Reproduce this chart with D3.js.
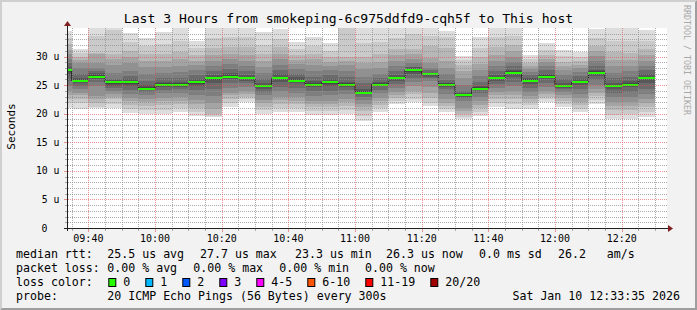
<!DOCTYPE html>
<html>
<head>
<meta charset="utf-8">
<script src="https://cdn.jsdelivr.net/npm/d3@7"></script>
<style>
  html, body { margin: 0; padding: 0; background: #f2f2f2; }
  svg { display: block; font-family: "DejaVu Sans Mono", monospace; }
</style>
</head>
<body>
<div id="chart"></div>
<script>
(function() {

  // ---- data ----
  // end time of every 300s step shown
  const stepEnds = ["09:35","09:40","09:45","09:50","09:55","10:00","10:05","10:10","10:15","10:20",
                    "10:25","10:30","10:35","10:40","10:45","10:50","10:55","11:00","11:05","11:10",
                    "11:15","11:20","11:25","11:30","11:35","11:40","11:45","11:50","11:55","12:00",
                    "12:05","12:10","12:15","12:20","12:25","12:30"];

  // median rtt per step (micro seconds)
  const medians = [27.6,25.8,26.5,25.5,25.5,24.4,25.1,25.1,25.5,26.2,
                   26.5,26.2,24.8,26.2,25.8,25.1,25.5,25.1,23.7,25.1,
                   26.2,27.7,26.9,25.1,23.3,24.4,26.2,27.2,25.8,26.5,
                   24.8,25.5,27.2,24.8,25.1,26.3];

  // lost pings per step (all green)
  const losses = [0,0,0,0,0,0,0,0,0,0,0,0,0,0,0,0,0,0,0,0,0,0,0,0,0,0,0,0,0,0,0,0,0,0,0,0];

  // the 20 sorted ping times of every step (micro seconds), these make the smoke
  const pings = [
    [21.0,21.8,22.6,23.3,23.9,24.8,25.7,26.7,27.3,27.5,27.7,27.8,28.2,28.8,29.6,30.4,31.2,32.2,33.3,34.5],
    [20.8,21.9,22.6,23.2,23.7,24.3,24.9,25.4,25.6,25.7,25.9,26.0,26.3,27.0,28.0,28.8,29.4,30.0,30.6,31.4],
    [21.0,21.1,21.9,22.5,23.1,24.8,25.6,26.0,26.3,26.4,26.6,26.8,27.1,27.4,28.0,28.9,30.5,30.6,33.6,35.5],
    [21.05,21.7,22.5,22.9,23.4,24.0,24.55,24.9,25.2,25.4,25.6,25.7,25.9,26.1,27.2,28.6,29.5,30.4,34.7,35.5],
    [20.2,20.9,21.6,22.2,22.8,23.4,24.2,24.85,25.2,25.4,25.6,25.7,26.0,26.6,27.5,28.9,29.9,31.0,32.6,34.15],
    [20.0,20.7,21.4,22.0,22.6,23.2,23.8,24.1,24.2,24.3,24.5,24.6,25.0,25.8,26.9,28.2,29.3,30.5,31.8,33.3],
    [20.0,20.7,21.5,22.2,22.8,23.6,24.2,24.7,24.9,25.0,25.2,25.3,25.6,26.3,27.2,28.2,29.2,30.5,32.2,34.3],
    [20.3,21.0,21.7,22.3,22.9,23.7,24.3,24.7,24.9,25.0,25.2,25.3,25.6,26.3,27.3,28.4,29.5,30.8,32.8,35.5],
    [19.6,20.3,21.0,21.7,22.4,23.3,24.1,24.9,25.2,25.4,25.6,25.7,26.1,26.8,27.6,28.5,29.3,30.3,31.5,32.8],
    [19.5,19.6,19.9,20.8,21.8,23.1,24.4,25.4,25.9,26.1,26.3,26.4,26.8,27.5,28.3,29.3,30.3,31.5,33.3,35.5],
    [21.2,21.9,22.6,23.2,23.7,24.5,25.3,26.0,26.3,26.4,26.6,26.7,27.1,27.8,28.7,29.6,30.5,31.6,33.5,35.5],
    [22.0,22.5,23.0,23.5,24.0,24.7,25.3,25.8,26.0,26.1,26.3,26.4,26.7,27.4,28.3,29.3,30.3,31.6,33.4,35.5],
    [20.0,20.6,21.2,21.8,22.4,23.2,23.8,24.4,24.6,24.7,24.9,25.0,25.3,26.1,27.1,28.2,29.2,30.4,32.1,34.3],
    [20.3,21.0,21.7,22.4,23.0,23.9,24.7,25.5,26.0,26.1,26.3,26.4,26.9,27.6,28.5,29.6,30.5,31.6,33.1,34.9],
    [20.3,21.0,21.7,22.3,22.9,23.7,24.5,25.3,25.6,25.7,25.9,26.0,26.4,27.0,27.8,28.7,29.4,30.2,31.3,32.5],
    [19.7,20.4,21.1,21.7,22.3,23.1,23.9,24.6,24.9,25.0,25.2,25.3,25.7,26.5,27.5,28.6,29.5,30.5,31.9,33.4],
    [19.7,20.4,21.1,21.7,22.3,23.2,24.0,24.8,25.2,25.4,25.6,25.7,26.1,26.8,27.6,28.4,29.1,29.9,31.0,32.3],
    [20.0,20.7,21.4,22.0,22.6,23.4,24.1,24.7,24.9,25.0,25.2,25.3,25.6,26.4,27.4,28.5,29.3,30.0,35.3,35.5],
    [18.8,19.6,20.4,21.1,21.7,22.4,23.0,23.4,23.5,23.6,23.8,23.9,24.4,25.4,26.5,27.8,28.8,30.0,32.4,35.5],
    [20.3,21.0,21.6,22.2,22.8,23.6,24.2,24.8,24.9,25.0,25.2,25.3,25.6,26.2,27.0,28.0,29.0,30.4,32.6,35.5],
    [21.7,22.3,22.8,23.3,23.8,24.5,25.2,25.8,26.0,26.1,26.3,26.4,26.7,27.4,28.3,29.3,30.2,31.4,33.2,35.5],
    [22.0,22.6,23.4,23.9,24.9,25.5,26.2,26.9,27.3,27.6,27.8,27.9,28.1,28.2,28.8,29.5,30.4,31.3,33.9,35.5],
    [21.35,21.9,22.8,23.7,24.7,25.7,26.2,26.5,26.7,26.8,27.0,27.1,27.2,27.6,28.05,28.9,29.8,31.85,33.6,35.5],
    [20.3,20.9,21.35,21.9,22.5,23.4,24.25,24.7,24.9,25.0,25.2,25.3,25.4,25.9,26.9,28.0,29.2,31.55,33.5,34.45],
    [19.1,19.5,19.9,20.4,21.05,22.2,22.8,23.0,23.2,23.25,23.35,23.5,23.7,24.0,25.1,26.3,27.4,28.6,29.4,30.1],
    [19.6,20.3,21.0,21.6,22.2,23.0,23.6,24.1,24.2,24.3,24.5,24.6,24.9,25.6,26.6,27.7,28.7,29.9,31.5,33.4],
    [21.2,21.9,22.6,23.2,23.8,24.5,25.2,25.8,26.0,26.1,26.3,26.4,26.7,27.4,28.3,29.3,30.3,31.6,33.4,35.5],
    [20.9,21.7,22.5,23.2,23.9,24.8,25.6,26.5,26.9,27.1,27.3,27.4,27.7,28.3,29.1,30.0,30.9,32.0,33.6,35.5],
    [20.9,21.5,22.1,22.6,23.1,23.8,24.5,25.2,25.6,25.7,25.9,26.0,26.3,26.8,27.3,27.9,28.4,28.9,29.5,30.2],
    [22.0,22.5,23.0,23.5,24.0,24.7,25.4,26.0,26.3,26.4,26.6,26.7,27.0,27.6,28.3,29.0,29.6,30.3,31.2,32.3],
    [21.2,21.7,22.2,22.7,23.2,23.8,24.3,24.5,24.6,24.7,24.9,25.0,25.3,26.0,26.8,27.6,28.3,29.1,30.1,31.2],
    [20.3,20.9,21.5,22.1,22.7,23.5,24.3,25.0,25.3,25.4,25.6,25.7,26.0,26.6,27.3,28.0,28.6,29.2,30.0,30.8],
    [21.7,22.4,23.1,23.7,24.3,25.1,25.9,26.6,27.0,27.1,27.3,27.4,27.7,28.4,29.2,30.1,30.9,31.8,33.2,34.9],
    [19.1,19.8,20.6,21.3,22.0,22.9,23.7,24.4,24.6,24.7,24.9,25.0,25.4,26.2,27.1,28.3,29.4,30.8,32.8,35.5],
    [19.1,19.9,20.7,21.4,22.1,23.0,23.8,24.6,24.9,25.0,25.2,25.3,25.7,26.5,27.4,28.4,29.4,30.7,32.7,35.5],
    [19.5,20.3,21.1,21.8,22.5,23.5,24.4,25.4,26.0,26.2,26.4,26.5,26.9,27.6,28.4,29.3,30.2,31.3,32.8,34.6]
  ];

  // axis ticks
  const yMajorTicks  = [0, 5, 10, 15, 20, 25, 30];
  const yTickLabels  = ["0", "5 u", "10 u", "15 u", "20 u", "25 u", "30 u"];
  const timeLabels   = ["09:40","10:00","10:20","10:40","11:00","11:20","11:40","12:00","12:20"];

  // legend
  const rttLegend   = ["median rtt:", "25.5 us avg", "27.7 us max", "23.3 us min", "26.3 us now", "0.0 ms sd", "26.2", "am/s"];
  const lossLegend  = ["packet loss:", "0.00 % avg", "0.00 % max", "0.00 % min", "0.00 % now"];
  const lossLabels  = ["0", "1", "2", "3", "4-5", "6-10", "11-19", "20/20"];
  const lossColors  = ["#26ff00", "#00b8ff", "#0059ff", "#7e00ff", "#ff00ff", "#ff5500", "#ff0000", "#a10000"];
  const probeLegend = ["probe:", "20 ICMP Echo Pings (56 Bytes) every 300s"];
  const stamp       = "Sat Jan 10 12:33:35 2026";
  const title       = "Last 3 Hours from smokeping-6c975ddfd9-cqh5f to This host";

  // ---- layout ----
  let width  = 697,
      height = 310;
  let left = 67, right = 667, top = 28, bottom = 228;

  const gridCol  = "rgba(143,143,143,0.75)";
  const mgridCol = "rgba(222,79,79,0.6)";

  let parseHM  = d3.timeParse("%H:%M");
  let parseHMS = d3.timeParse("%H:%M:%S");

  let x = d3.scaleTime()
    .domain([parseHMS("09:33:35"), parseHMS("12:33:35")])
    .range ([left, right]);

  let y = d3.scaleLinear()
    .domain([0, 35])
    .range ([bottom, top]);

  let svg = d3.select("#chart")
    .append("svg")
    .attr  ("width", width)
    .attr  ("height", height);

  let defs = svg.append("defs");

  // dotted grid lines as 1px patterns, so every line gets the same dots
  let dotPattern = (id, w, h, color) => {
    let p = defs.append("pattern")
      .attr("id", id)
      .attr("patternUnits", "userSpaceOnUse")
      .attr("x", 0).attr("y", 0)
      .attr("width", w).attr("height", h);
    p.append("rect").attr("width", 1).attr("height", 1).attr("fill", color);
  };
  dotPattern("hMin", 2, 1, gridCol);
  dotPattern("vMin", 1, 2, gridCol);
  dotPattern("hMaj", 2, 1, mgridCol);
  dotPattern("vMaj", 1, 2, mgridCol);

  defs.append("clipPath").attr("id", "plotclip")
    .append("rect")
    .attr("x", left).attr("y", top)
    .attr("width", right - left).attr("height", bottom - top);

  // background + 3d frame like rrdtool
  svg.append("rect").attr("width", width).attr("height", height).attr("fill", "#f2f2f2");
  svg.append("path")
    .attr("d", `M0,0H${width}L${width-2},2H2V${height-2}L0,${height}Z`)
    .attr("fill", "#cfcfcf");
  svg.append("path")
    .attr("d", `M${width},${height}H0L2,${height-2}H${width-2}V2L${width},0Z`)
    .attr("fill", "#9e9e9e");

  // canvas
  svg.append("rect")
    .attr("x", left).attr("y", top)
    .attr("width", right - left).attr("height", bottom - top)
    .attr("fill", "#ffffff");

  let plot = svg.append("g").attr("clip-path", "url(#plotclip)");

  // smoke: 10 nested bands per step, outer ones light, inner ones dark
  let smokeGray = (k) => {
    let c = Math.floor(190 / 10 * (10 - (k + 1))) + 50;
    return d3.rgb(c, c, c).formatHex();
  };

  let steps = stepEnds.map((t, i) => {
    let end = parseHM(t);
    return {
      x0: x(d3.timeMinute.offset(end, -5)),
      x1: x(end),
      pings: pings[i],
      median: medians[i],
      loss: losses[i]
    };
  });

  let cols = plot.selectAll(".step")
    .data (steps)
    .enter().append("g")
    .attr ("class", "step");

  cols.selectAll("rect")
    .data (d => d3.range(10).map(k => ({ k: k, x0: d.x0, x1: d.x1, lo: d.pings[k], hi: d.pings[19 - k] })))
    .enter().append("rect")
    .attr ("x", b => b.x0)
    .attr ("width", b => b.x1 - b.x0)
    .attr ("y", b => y(b.hi))
    .attr ("height", b => y(b.lo) - y(b.hi))
    .attr ("fill", b => smokeGray(b.k))
    .attr ("shape-rendering", "crispEdges");

  // median as dark step line, then loss colored band on top
  let medPath = d3.path();
  steps.forEach((s, i) => {
    if (i === 0) medPath.moveTo(s.x0, y(s.median));
    else medPath.lineTo(s.x0, y(s.median));
    medPath.lineTo(s.x1, y(s.median));
  });
  plot.append("path")
    .attr("d", medPath.toString())
    .attr("fill", "none")
    .attr("stroke", "#202020")
    .attr("stroke-width", 1);

  plot.selectAll(".med")
    .data (steps)
    .enter().append("rect")
    .attr ("class", "med")
    .attr ("x", d => d.x0)
    .attr ("width", d => d.x1 - d.x0)
    .attr ("y", d => y(d.median) - 1)
    .attr ("height", 2.2)
    .attr ("fill", d => lossColors[d.loss])
    .attr ("shape-rendering", "crispEdges");

  // grid on top of the data
  let grid = svg.append("g").attr("shape-rendering", "crispEdges");

  let minorY = y.ticks(35).filter(v => v % 5 !== 0);
  let majorTimes = timeLabels.map(parseHM);
  let minorX = x.ticks(d3.timeMinute.every(5))
    .filter(t => t.getMinutes() % 20 !== 0);

  grid.selectAll(".hmin")
    .data (minorY).enter().append("rect")
    .attr ("x", left).attr("width", right - left)
    .attr ("y", d => Math.round(y(d))).attr("height", 1)
    .attr ("fill", "url(#hMin)");

  grid.selectAll(".vmin")
    .data (minorX).enter().append("rect")
    .attr ("y", top).attr("height", bottom - top)
    .attr ("x", d => Math.round(x(d))).attr("width", 1)
    .attr ("fill", "url(#vMin)");

  grid.selectAll(".hmaj")
    .data (yMajorTicks.filter(v => v > 0)).enter().append("rect")
    .attr ("x", left).attr("width", right - left)
    .attr ("y", d => Math.round(y(d))).attr("height", 1)
    .attr ("fill", "url(#hMaj)");

  grid.selectAll(".vmaj")
    .data (majorTimes).enter().append("rect")
    .attr ("y", top).attr("height", bottom - top)
    .attr ("x", d => Math.round(x(d))).attr("width", 1)
    .attr ("fill", "url(#vMaj)");

  // small tick marks on the axes
  let ticks = svg.append("g").attr("shape-rendering", "crispEdges");
  ticks.selectAll(".ty")
    .data (minorY).enter().append("line")
    .attr ("x1", left - 2).attr("x2", left)
    .attr ("y1", d => Math.round(y(d)) + 0.5).attr("y2", d => Math.round(y(d)) + 0.5)
    .attr ("stroke", gridCol);
  ticks.selectAll(".tyM")
    .data (yMajorTicks).enter().append("line")
    .attr ("x1", left - 3).attr("x2", left + 1)
    .attr ("y1", d => Math.round(y(d)) + 0.5).attr("y2", d => Math.round(y(d)) + 0.5)
    .attr ("stroke", mgridCol);
  ticks.selectAll(".tx")
    .data (minorX).enter().append("line")
    .attr ("y1", bottom + 1).attr("y2", bottom + 3)
    .attr ("x1", d => Math.round(x(d)) + 0.5).attr("x2", d => Math.round(x(d)) + 0.5)
    .attr ("stroke", gridCol);
  ticks.selectAll(".txM")
    .data (majorTimes).enter().append("line")
    .attr ("y1", bottom + 1).attr("y2", bottom + 4)
    .attr ("x1", d => Math.round(x(d)) + 0.5).attr("x2", d => Math.round(x(d)) + 0.5)
    .attr ("stroke", mgridCol);

  // axes with arrows
  svg.append("line")
    .attr("x1", left - 3).attr("x2", right + 3)
    .attr("y1", bottom + 0.5).attr("y2", bottom + 0.5)
    .attr("stroke", "#1f1f1f");
  svg.append("line")
    .attr("x1", left + 0.5).attr("x2", left + 0.5)
    .attr("y1", bottom + 3).attr("y2", top - 4)
    .attr("stroke", "#1f1f1f");
  svg.append("path")
    .attr("d", `M${right + 1},${bottom - 3}L${right + 6},${bottom + 0.5}L${right + 1},${bottom + 4}Z`)
    .attr("fill", "#801f1f");
  svg.append("path")
    .attr("d", `M${left - 3},${top - 2}L${left + 0.5},${top - 7}L${left + 4},${top - 2}Z`)
    .attr("fill", "#801f1f");

  // y labels
  svg.append("g").selectAll("text")
    .data (yMajorTicks).enter().append("text")
    .attr ("x", (d, i) => i === 0 ? 47.5 : 59.5)
    .attr ("y", d => y(d) + 3.5)
    .attr ("text-anchor", "end")
    .attr ("font-size", "9.8px")
    .attr ("fill", "#000")
    .text ((d, i) => yTickLabels[i]);

  // time labels
  svg.append("g").selectAll("text")
    .data (majorTimes).enter().append("text")
    .attr ("x", d => x(d))
    .attr ("y", 241.5)
    .attr ("text-anchor", "middle")
    .attr ("font-size", "10px")
    .attr ("fill", "#000")
    .text ((d, i) => timeLabels[i]);

  // title
  svg.append("text")
    .attr("x", 348.5).attr("y", 23)
    .attr("text-anchor", "middle")
    .attr("font-size", "13.1px")
    .text(title);

  // vertical label
  svg.append("text")
    .attr("transform", "translate(15,126.5) rotate(-90)")
    .attr("text-anchor", "middle")
    .attr("font-size", "11px")
    .text("Seconds");

  // watermark
  svg.append("text")
    .attr("transform", "translate(684,5) rotate(90)")
    .attr("font-size", "8.3px")
    .attr("fill", "#a8a8a8")
    .text("RRDTOOL / TOBI OETIKER");

  // legend
  let legend = svg.append("g").attr("font-size", "11.6px").attr("fill", "#000");
  let rttX  = [16, 107.3, 200, 295, 386, 479, 558, 606.7];
  let lossX = [16, 107.3, 193.3, 279.3, 365];

  legend.selectAll(".rtt")
    .data (rttLegend).enter().append("text")
    .attr ("x", (d, i) => rttX[i]).attr("y", 258)
    .text (d => d);

  legend.selectAll(".pl")
    .data (lossLegend).enter().append("text")
    .attr ("x", (d, i) => lossX[i]).attr("y", 272)
    .text (d => d);

  legend.append("text").attr("x", 16).attr("y", 286).text("loss color:");
  let bx = 108.3;
  lossLabels.forEach((lab, i) => {
    legend.append("rect")
      .attr("x", bx + 0.5).attr("y", 278.5)
      .attr("width", 7).attr("height", 8)
      .attr("fill", lossColors[i])
      .attr("stroke", "#000").attr("stroke-width", 1);
    legend.append("text").attr("x", bx + 15).attr("y", 286).text(lab);
    bx += 15 + lab.length * 7 + 15;
  });

  legend.append("text").attr("x", 16).attr("y", 300).text(probeLegend[0]);
  legend.append("text").attr("x", 107.3).attr("y", 300).text(probeLegend[1]);
  legend.append("text").attr("x", 680).attr("y", 300).attr("text-anchor", "end").text(stamp);

})();
</script>
</body>
</html>
